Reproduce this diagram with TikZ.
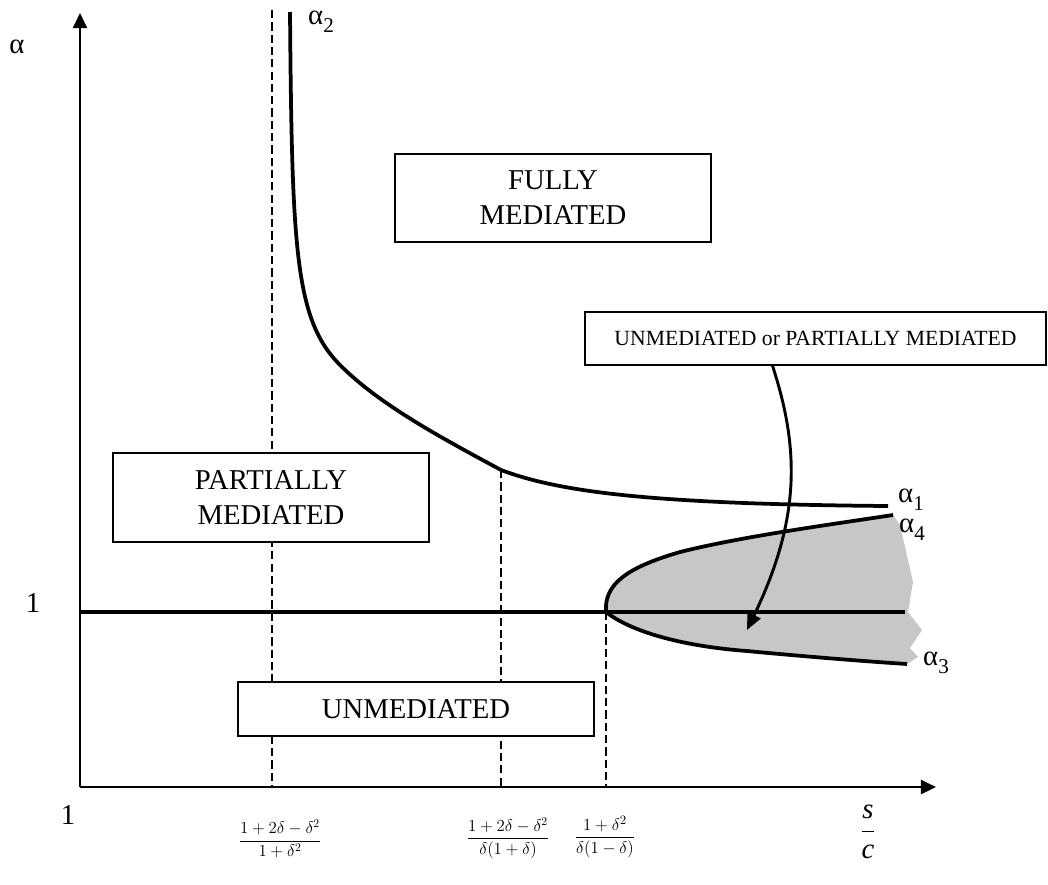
\documentclass[tikz,border=0pt]{standalone}
\usepackage{amsmath}
\usepackage{fontspec}
\setmainfont{Liberation Serif}
\usetikzlibrary{arrows.meta,calc}
\begin{document}
\begin{tikzpicture}[x=0.03cm,y=-0.03cm,
  axis/.style={line width=2.4pt,-{Triangle[length=13pt,width=12pt]}},
  curve/.style={line width=3.2pt},
  unitline/.style={line width=2.8pt},
  guide/.style={line width=1.6pt,dash pattern=on 7pt off 3.5pt},
  regionbox/.style={draw,line width=1.3pt,fill=white,inner sep=0pt,align=center,
    font=\fontsize{24.5}{29.8}\selectfont},
  lbl/.style={inner sep=0pt,font=\fontsize{24.5}{29}\selectfont},
  frac/.style={inner sep=0pt,font=\fontsize{14}{17}\selectfont},
  pointer/.style={line width=2.5pt,-{Triangle[length=14pt,width=12pt]}},
  shade/.style={fill=black!22,draw=none}]
\useasboundingbox (0,0) rectangle (1048,884);

% shaded region between alpha_4 and alpha_3
\path[shade] (606,612) .. controls (630,631) and (680,646) .. (747,651)
  .. controls (800,656) and (860,661) .. (907,664)
  -- (918,657) -- (910,648) -- (922,630) -- (908,612) -- (913,582) -- (900,525) -- (893,515)
  .. controls (820,526) and (740,537) .. (680,552)
  .. controls (625,568) and (604,585) .. (606,612) -- cycle;

% dashed guides
\coordinate (g1top) at (272,10);
\coordinate (g1bot) at (272,787);
\coordinate (kink) at (501,470);
\coordinate (g2bot) at (501,787);
\coordinate (nose) at (606,612);
\coordinate (g3bot) at (606,787);
\draw[guide] (g1top) -- (g1bot);
\draw[guide] (kink) -- (g2bot);
\draw[guide] (nose) -- (g3bot);

% axes
\coordinate (O) at (80,787);
\coordinate (ytip) at (80,13);
\coordinate (xtip) at (936,787);
\draw[axis] (O) -- (ytip);
\draw[axis] (O) -- (xtip);

% alpha = 1 line
\coordinate (oneL) at (80,612);
\coordinate (oneR) at (905,612);
\draw[unitline] (oneL) -- (oneR);

% alpha_2 / alpha_1 curve
\coordinate (a2top) at (290,12);
\coordinate (a1end) at (888,506);
\draw[curve] (a2top) .. controls (292,250) and (295,320) .. (340,365)
  .. controls (380,405) and (440,437) .. (kink)
  .. controls (560,492) and (650,504) .. (a1end);

% alpha_4 curve
\coordinate (a4end) at (893,515);
\draw[curve] (nose) .. controls (604,585) and (625,568) .. (680,552)
  .. controls (740,537) and (820,526) .. (a4end);

% alpha_3 curve
\coordinate (a3end) at (907,664);
\draw[curve] (nose) .. controls (630,631) and (680,646) .. (747,651)
  .. controls (800,656) and (860,661) .. (a3end);

% region boxes
\node[regionbox,minimum width=9.48cm,minimum height=2.64cm] (fully) at (553,198) {FULLY\\MEDIATED};
\node[regionbox,minimum width=9.48cm,minimum height=2.67cm] (partial) at (271,497.5) {PARTIALLY\\MEDIATED};
\node[regionbox,minimum width=10.68cm,minimum height=1.62cm] (unmed) at (416,709) {UNMEDIATED};
\node[regionbox,minimum width=13.83cm,minimum height=1.59cm,font=\fontsize{18.5}{22}\selectfont] (uopm) at (815.5,338.5) {UNMEDIATED or PARTIALLY MEDIATED};

% pointer arrow
\coordinate (ptip) at (747,630);
\draw[pointer] ($(uopm.south)+(-43,0)$) .. controls (800,450) and (800,520) .. (ptip);

% labels
\node[lbl] (alab) at (17,47) {α};
\node[lbl] (a2lab) at (321,22) {α\raisebox{-0.28em}{\fontsize{18}{18}\selectfont 2}};
\node[lbl] (a1lab) at (911,500) {α\raisebox{-0.28em}{\fontsize{18}{18}\selectfont 1}};
\node[lbl] (a4lab) at (912,530) {α\raisebox{-0.28em}{\fontsize{18}{18}\selectfont 4}};
\node[lbl] (a3lab) at (936,663) {α\raisebox{-0.28em}{\fontsize{18}{18}\selectfont 3}};
\node[lbl] (oneY) at (33,603) {1};
\node[lbl] (oneX) at (68,815) {1};
\node[frac] (f1) at (280,839) {$\dfrac{1+2\delta-\delta^2}{1+\delta^2}$};
\node[frac] (f2) at (508,838) {$\dfrac{1+2\delta-\delta^2}{\delta(1+\delta)}$};
\node[frac,font=\fontsize{15.5}{18}\selectfont] (f3) at (605,837) {$\dfrac{1+\delta^2}{\delta(1-\delta)}$};
\node[lbl] (sc) at (868,832) {$\dfrac{\mathit{s}}{\mathit{c}}$};
\end{tikzpicture}
\end{document}
